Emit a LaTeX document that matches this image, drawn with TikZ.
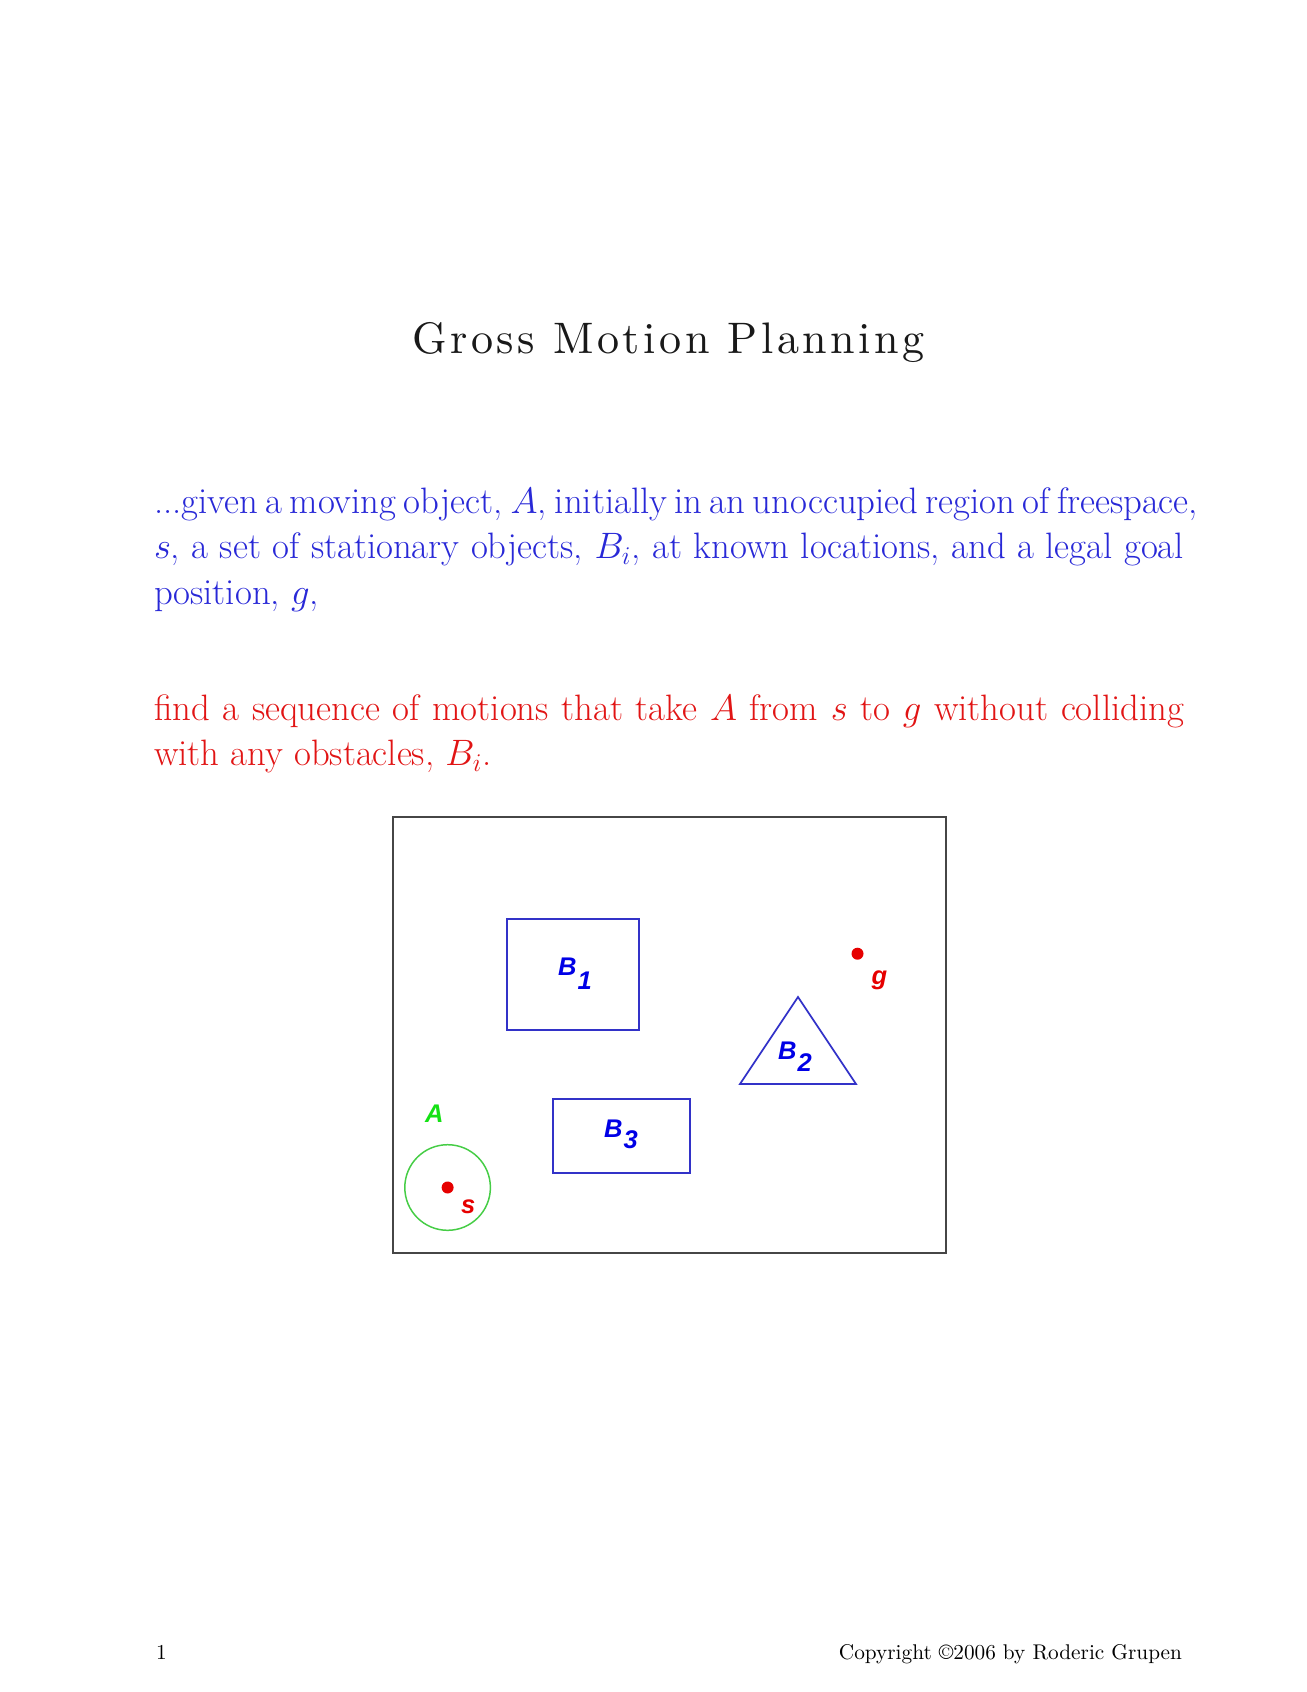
\documentclass[tikz,border=0pt]{standalone}
\usepackage{fontspec}
\newfontfamily\labelfont{Liberation Sans}
\newfontfamily\titlefont[LetterSpace=8]{lmroman10-regular.otf}
\usetikzlibrary{positioning}

\definecolor{framegray}{RGB}{70,70,70}
\definecolor{obstblue}{RGB}{50,50,200}
\definecolor{labelblue}{RGB}{0,0,230}
\definecolor{robotgreen}{RGB}{70,205,70}
\definecolor{agreen}{RGB}{20,225,20}
\definecolor{ptred}{RGB}{230,0,0}
\definecolor{textblue}{RGB}{40,40,215}
\definecolor{textred}{RGB}{225,20,20}

\newdimen\pxu
\pxu=0.016531cm

\begin{document}
\begin{tikzpicture}[
        x=\pxu, y=-\pxu,
        every node/.style={inner sep=0pt, outer sep=0pt},
        title/.style={anchor=base, font=\titlefont\fontsize{20.74}{25}\selectfont, text=black!90},
        para/.style={anchor=base west, text width=1030\pxu, align=justify, font=\fontsize{17.28}{21.6}\selectfont},
        foot/.style={font=\fontsize{10}{12}\selectfont},
        frame/.style={draw=framegray, line width=1.3pt},
        obstacle/.style={draw=obstblue, line width=0.8pt},
        robot/.style={draw=robotgreen, line width=0.7pt},
        tag/.style={anchor=base west, font=\labelfont\bfseries\itshape\fontsize{12}{14}\selectfont},
        point/.style={fill=ptred, circle, minimum size=12\pxu}
    ]
        \useasboundingbox (0,0) rectangle (1306,1692);

        % --- Titulo ---
        \node[title] (title) at (668.5,353) {Gross Motion Planning};

        % --- Texto ---
        \node[para, text=textblue] (given) at (154,513)
            {\makebox[1044\pxu][s]{\spaceskip=0.3em minus 0.2em ...given a moving object, $A$, initially in an unoccupied region of freespace,}\linebreak
             $s$, a set of stationary objects, $B_i$, at known locations, and a legal goal\linebreak
             position, $g$,};
        \node[para, text=textred] (find) at (154,720)
            {find a sequence of motions that take $A$ from $s$ to $g$ without colliding\linebreak
             with any obstacles, $B_i$.};

        % --- Mundo ---
        \draw[frame] (393,817) rectangle (946,1253);

        % obstaculos
        \draw[obstacle] (507,919) rectangle (639,1030);
        \draw[obstacle] (798,997) -- (740,1084) -- (856,1084) -- cycle;
        \draw[obstacle] (553,1099) rectangle (690,1173);
        \node[tag, text=labelblue] (B1) at (558,975) {B\kern0.6pt\raisebox{-7pt}{1}};
        \node[tag, text=labelblue] (B2) at (778,1059) {B\kern0.6pt\raisebox{-6pt}{2}};
        \node[tag, text=labelblue] (B3) at (604,1137) {B\kern0.6pt\raisebox{-5.5pt}{3}};

        % objeto movil A y puntos s, g
        \draw[robot] (447.6,1187.5) circle (42.8);
        \node[tag, text=agreen] (A) at (425,1122) {A};
        \node[point] (s) at (447.6,1187.5) {};
        \node[tag, text=ptred] (s_lbl) at (461,1213) {s};
        \node[point] (g) at (857.5,953.7) {};
        \node[tag, text=ptred] (g_lbl) at (871.5,984) {g};

        % --- Pie de pagina ---
        \node[foot, anchor=base west] (page) at (156,1659) {1};
        \node[foot, anchor=base east] (copy) at (1182,1659) {Copyright ©2006 by Roderic Grupen};
\end{tikzpicture}
\end{document}
